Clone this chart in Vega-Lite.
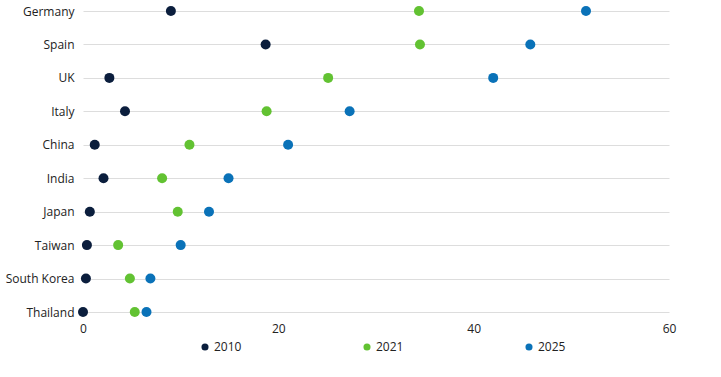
{
  "$schema": "https://vega.github.io/schema/vega-lite/v6.json",
  "autosize": {"type": "none"},
  "padding": {"left": 83, "top": 11, "right": 52, "bottom": 65},
  "width": 586,
  "height": 301,
  "background": "white",
  "data": {
    "values": [
      {"country": "Germany", "year": "2010", "value": 9.0},
      {"country": "Germany", "year": "2021", "value": 34.4},
      {"country": "Germany", "year": "2025", "value": 51.5},
      {"country": "Spain", "year": "2010", "value": 18.7},
      {"country": "Spain", "year": "2021", "value": 34.5},
      {"country": "Spain", "year": "2025", "value": 45.8},
      {"country": "UK", "year": "2010", "value": 2.7},
      {"country": "UK", "year": "2021", "value": 25.1},
      {"country": "UK", "year": "2025", "value": 42.0},
      {"country": "Italy", "year": "2010", "value": 4.3},
      {"country": "Italy", "year": "2021", "value": 18.8},
      {"country": "Italy", "year": "2025", "value": 27.3},
      {"country": "China", "year": "2010", "value": 1.2},
      {"country": "China", "year": "2021", "value": 10.9},
      {"country": "China", "year": "2025", "value": 21.0},
      {"country": "India", "year": "2010", "value": 2.1},
      {"country": "India", "year": "2021", "value": 8.1},
      {"country": "India", "year": "2025", "value": 14.9},
      {"country": "Japan", "year": "2010", "value": 0.7},
      {"country": "Japan", "year": "2021", "value": 9.7},
      {"country": "Japan", "year": "2025", "value": 12.9},
      {"country": "Taiwan", "year": "2010", "value": 0.4},
      {"country": "Taiwan", "year": "2021", "value": 3.6},
      {"country": "Taiwan", "year": "2025", "value": 10.0},
      {"country": "South Korea", "year": "2010", "value": 0.3},
      {"country": "South Korea", "year": "2021", "value": 4.8},
      {"country": "South Korea", "year": "2025", "value": 6.9},
      {"country": "Thailand", "year": "2010", "value": 0.0},
      {"country": "Thailand", "year": "2021", "value": 5.3},
      {"country": "Thailand", "year": "2025", "value": 6.5}
    ]
  },
  "mark": {"type": "point", "filled": true, "size": 100, "opacity": 1},
  "encoding": {
    "y": {
      "field": "country",
      "type": "nominal",
      "sort": ["Germany", "Spain", "UK", "Italy", "China", "India", "Japan", "Taiwan", "South Korea", "Thailand"],
      "scale": {"padding": 0},
      "axis": {
        "title": null,
        "domain": false,
        "ticks": false,
        "grid": true,
        "gridColor": "#dddddd",
        "gridWidth": 1,
        "labelPadding": 9,
        "labelFont": "Open Sans",
        "labelFontSize": 12,
        "labelColor": "#222222"
      }
    },
    "x": {
      "field": "value",
      "type": "quantitative",
      "scale": {"domain": [0, 60], "nice": false, "zero": true},
      "axis": {
        "title": null,
        "values": [0, 20, 40, 60],
        "domain": false,
        "ticks": false,
        "grid": false,
        "labelPadding": 11,
        "labelFont": "Open Sans",
        "labelFontSize": 12,
        "labelColor": "#222222",
        "labelFlush": false
      }
    },
    "color": {
      "field": "year",
      "type": "nominal",
      "scale": {"domain": ["2010", "2021", "2025"], "range": ["#0b1e3d", "#62c232", "#0a72b8"]},
      "legend": {
        "title": null,
        "orient": "none",
        "legendX": 116,
        "legendY": 330,
        "direction": "horizontal",
        "symbolType": "circle",
        "symbolSize": 50,
        "symbolOffset": 0,
        "labelFont": "Open Sans",
        "labelFontSize": 12,
        "labelColor": "#222222",
        "labelOffset": 3,
        "columnPadding": 119
      }
    }
  },
  "config": {
    "view": {"stroke": null}
  }
}
